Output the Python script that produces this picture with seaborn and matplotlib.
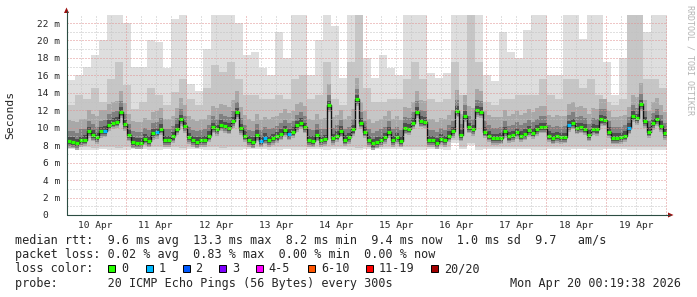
import numpy as np
import matplotlib
matplotlib.use("Agg")
import matplotlib.pyplot as plt
import seaborn as sns
from matplotlib.patches import Rectangle, Polygon
from matplotlib.lines import Line2D

# ---------------- data ----------------
start_hour = 0.33          # Apr 10 00:19 (hours since Apr 10 00:00)
span_hours = 240.0         # 10 days

# median RTT (ms), 96-minute bins
median_ms = [8.44, 8.4, 8.25, 8.6, 8.65, 9.6, 9.2, 8.9, 9.6, 9.65,
             10.35, 10.6, 10.7, 11.85, 10.4, 9.2, 8.4, 8.3, 8.3, 8.75,
             8.5, 9.35, 9.5, 9.9, 8.6, 8.6, 9.0, 9.9, 11.0, 10.2,
             8.94, 8.55, 8.4, 8.55, 8.6, 9.1, 10.1, 9.85, 10.35, 10.2,
             10.0, 10.77, 11.8, 9.95, 9.1, 8.55, 8.4, 9.2, 8.5, 8.85,
             8.6, 8.8, 9.0, 9.3, 9.7, 9.3, 9.55, 10.3, 10.6, 10.1,
             8.6, 8.5, 9.2, 8.6, 8.7, 12.57, 8.8, 9.1, 9.65, 8.65,
             8.9, 9.8, 13.25, 10.6, 9.55, 8.6, 8.2, 8.4, 8.6, 8.9,
             9.55, 8.6, 8.9, 8.5, 10.0, 9.9, 10.6, 11.85, 10.8, 10.7,
             8.55, 8.55, 8.3, 8.75, 8.55, 9.1, 9.6, 11.95, 9.2, 11.4,
             10.1, 9.85, 12.0, 11.85, 9.55, 9.1, 8.8, 8.8, 8.85, 9.6,
             9.0, 9.15, 9.5, 9.1, 9.3, 9.7, 9.45, 9.85, 10.1, 10.1,
             9.1, 8.85, 9.05, 8.9, 8.95, 10.3, 10.55, 10.0, 10.1, 9.9,
             9.2, 9.9, 9.8, 10.95, 10.9, 9.55, 8.85, 8.85, 8.9, 9.1,
             10.0, 11.4, 11.1, 12.7, 10.75, 9.55, 10.5, 11.0, 10.25, 9.4]
loss_one_bins = [9, 22, 48, 49, 55, 125, 140]   # bins with 1/20 lost

# smoke extents (ms), 192-minute bins
smoke_max = [15.5, 16.0, 17.0, 18.3, 20.0, 22.9, 22.9, 22.0, 17.0, 17.0, 20.0, 19.8, 16.8, 22.5, 22.9,
             15.0, 14.2, 19.0, 22.9, 22.9, 22.9, 22.0, 18.3, 18.7, 16.8, 16.0, 21.0, 18.0, 22.9, 22.9,
             16.0, 20.0, 22.9, 21.7, 15.7, 22.9, 22.9, 18.0, 15.7, 18.3, 16.8, 16.0, 22.9, 22.9, 22.9,
             16.3, 15.7, 16.3, 22.9, 22.9, 22.9, 22.9, 16.0, 15.3, 21.0, 18.7, 18.0, 21.2, 22.9, 22.9,
             16.0, 16.0, 22.9, 22.9, 20.2, 22.9, 22.9, 17.5, 13.7, 18.0, 22.9, 22.9, 21.0, 22.9, 22.9]
smoke_mid = [12.6, 13.7, 13.3, 14.5, 13.0, 15.6, 17.5, 14.9, 12.2, 13.0, 14.5, 13.7, 12.6, 14.1, 15.6,
             13.3, 12.6, 14.5, 17.2, 16.4, 17.5, 15.6, 13.7, 13.7, 13.3, 13.3, 13.7, 13.3, 15.6, 16.0,
             13.3, 13.7, 17.5, 13.3, 12.6, 17.5, 22.9, 14.5, 13.0, 13.0, 13.3, 13.3, 15.6, 17.5, 15.6,
             13.3, 13.0, 13.3, 17.5, 13.7, 22.9, 17.5, 13.0, 12.6, 13.3, 13.3, 13.7, 13.7, 13.7, 15.6,
             13.7, 13.3, 15.6, 15.6, 14.5, 15.6, 13.7, 13.0, 12.6, 13.3, 22.9, 22.9, 15.6, 15.6, 14.5]
smoke_min = [7.6, 7.5, 7.5, 7.4, 7.6, 7.5, 7.4, 7.5, 7.6, 7.6, 7.5, 7.5, 7.6, 7.5, 7.4,
             7.6, 7.6, 7.5, 7.5, 7.4, 7.5, 7.5, 7.6, 7.6, 7.6, 7.5, 7.5, 7.6, 7.5, 7.5,
             7.6, 7.6, 7.5, 7.6, 7.6, 7.5, 7.4, 7.6, 7.6, 7.6, 7.6, 7.6, 7.5, 7.5, 7.5,
             7.6, 7.6, 7.5, 8.3, 7.6, 8.0, 7.5, 7.6, 7.6, 7.6, 7.6, 7.6, 7.6, 7.5, 7.5,
             7.6, 7.6, 7.5, 7.6, 7.6, 7.5, 7.5, 7.6, 7.6, 7.6, 7.5, 7.5, 7.5, 7.5, 7.5]

day_labels = ["10 Apr", "11 Apr", "12 Apr", "13 Apr", "14 Apr",
              "15 Apr", "16 Apr", "17 Apr", "18 Apr", "19 Apr"]
y_tick_values = [0, 2, 4, 6, 8, 10, 12, 14, 16, 18, 20, 22]
y_tick_labels = ["0  ", "2 m", "4 m", "6 m", "8 m", "10 m", "12 m",
                 "14 m", "16 m", "18 m", "20 m", "22 m"]

loss_labels = ["0", "1", "2", "3", "4-5", "6-10", "11-19", "20/20"]
loss_colors = ["#26ff00", "#00b8ff", "#0059ff", "#7e00ff",
               "#ff00ff", "#ff5500", "#ff0000", "#a10000"]

row_median = "median rtt:  9.6 ms avg  13.3 ms max  8.2 ms min  9.4 ms now  1.0 ms sd  9.7   am/s"
row_loss = "packet loss: 0.02 % avg  0.83 % max  0.00 % min  0.00 % now"
row_probe = "probe:       20 ICMP Echo Pings (56 Bytes) every 300s"
stamp = "Mon Apr 20 00:19:38 2026"
credit = "RRDTOOL / TOBI OETIKER"

# ---------------- figure ----------------
W, H = 697, 297
sns.set_style("white")
plt.rcParams["font.family"] = ["DejaVu Sans Mono", "DejaVu Sans"]

fig = plt.figure(figsize=(W / 100, H / 100), dpi=100, facecolor="white")


def fx(x):
    return x / W


def fy(y):
    return 1 - y / H


ax_l, ax_r, ax_b, ax_t = 66.5, 667, 215, 14.3
ax = fig.add_axes([fx(ax_l), fy(ax_b), fx(ax_r) - fx(ax_l), fy(ax_t) - fy(ax_b)])
ax.set_facecolor("white")

n_med = len(median_ms)
x_med = start_hour + (span_hours / n_med) * np.arange(n_med + 1)
med = np.append(median_ms, median_ms[-1])
n_sm = len(smoke_max)
x_sm = start_hour + (span_hours / n_sm) * np.arange(n_sm + 1)
s_max = np.append(smoke_max, smoke_max[-1])
s_mid = np.append(smoke_mid, smoke_mid[-1])
s_min = np.append(smoke_min, smoke_min[-1])

# smoke layers
ax.fill_between(x_sm, s_min, s_max, step="post", color="#dedede", lw=0, zorder=1)
ax.fill_between(x_sm, s_min + 0.25, s_mid, step="post", color="#c6c6c6", lw=0, zorder=1.1)
ax.fill_between(x_med, med - 0.75, med + 2.4, step="post", color="#a8a8a8", lw=0, zorder=1.2)
ax.fill_between(x_med, med - 0.55, med + 1.2, step="post", color="#808080", lw=0, zorder=1.3)
ax.fill_between(x_med, med - 0.35, med + 0.5, step="post", color="#4e4e4e", lw=0, zorder=1.4)

# median connecting line
sns.lineplot(x=x_med, y=med, drawstyle="steps-post", color="#111111", lw=1.0,
             estimator=None, sort=False, ax=ax, zorder=2)

# median markers coloured by loss
loss = np.zeros(n_med, dtype=int)
loss[loss_one_bins] = 1
bar_colors = [loss_colors[k] for k in loss]
ax.hlines(median_ms, x_med[:-1], x_med[1:], colors=bar_colors, lw=2.3, zorder=3)

ax.set_xlim(start_hour, start_hour + span_hours)
ax.set_ylim(0, 23)

# grid (on top of the smoke)
dots = (0, (1, 2))
major_col = "#e08f8f"
minor_col = "#c2c2c2"
for h in range(6, 241, 6):
    if start_hour < h < start_hour + span_hours:
        ax.axvline(h, color=major_col if h % 24 == 0 else minor_col,
                   lw=0.72, ls=dots, zorder=4)
for v in range(1, 23):
    ax.axhline(v, color=major_col if v % 2 == 0 else minor_col,
               lw=0.72, ls=dots, zorder=4)

# ticks
ax.set_xticks([12 + 24 * i for i in range(len(day_labels))])
ax.set_xticklabels(day_labels)
ax.set_xticks(list(range(6, 241, 6)), minor=True)
ax.set_yticks(y_tick_values)
ax.set_yticklabels(y_tick_labels)
ax.set_yticks(list(range(1, 23)), minor=True)
ax.tick_params(axis="x", which="major", length=0, pad=4.0, labelsize=6.8)
ax.tick_params(axis="y", which="major", length=2, direction="in", pad=4.6, labelsize=6.8,
               color="#2c4d43")
ax.tick_params(axis="both", which="minor", length=2, direction="in", color="#2c4d43")
ax.tick_params(axis="x", which="minor", length=0)
for s in ax.spines.values():
    s.set_visible(False)
ax.set_xlabel("")
ax.set_ylabel("Seconds", fontsize=8.2)
ax.yaxis.set_label_coords((15.5 - ax_l) / (ax_r - ax_l), 0.5)

# axis lines and arrows
axis_col = "#2c4d43"
arrow_col = "#9c1010"
fig.add_artist(Line2D([fx(66.5), fx(670)], [fy(215), fy(215)], color=axis_col, lw=0.8))
fig.add_artist(Line2D([fx(66.5), fx(66.5)], [fy(215), fy(11)], color=axis_col, lw=0.8))
fig.add_artist(Polygon([[fx(64), fy(13)], [fx(69), fy(13)], [fx(66.5), fy(7.5)]],
                       closed=True, color=arrow_col, transform=fig.transFigure, lw=0))
fig.add_artist(Polygon([[fx(668), fy(212.5)], [fx(668), fy(217.5)], [fx(673.5), fy(215)]],
                       closed=True, color=arrow_col, transform=fig.transFigure, lw=0))

# credit text
fig.text(fx(690), fy(60), credit, rotation=270, color="#b4b4b4", fontsize=6,
         ha="center", va="center")

# legend rows
fs = 8.45
fig.text(fx(15), fy(244.3), row_median, fontsize=fs, ha="left", va="baseline")
fig.text(fx(15), fy(258.3), row_loss, fontsize=fs, ha="left", va="baseline")
fig.text(fx(15), fy(272.3), "loss color:", fontsize=fs, ha="left", va="baseline")
fig.text(fx(15), fy(286.5), row_probe, fontsize=fs, ha="left", va="baseline")
fig.text(fx(681), fy(286.5), stamp, fontsize=fs, ha="right", va="baseline")

swatch_x = [108.3, 145.7, 182.7, 219.0, 256.0, 308.3, 365.7, 431.0]
for sx, lab, col in zip(swatch_x, loss_labels, loss_colors):
    fig.add_artist(Rectangle((fx(sx), fy(272)), fx(7), 7 / H, facecolor=col,
                             edgecolor="black", lw=0.7, transform=fig.transFigure))
    fig.text(fx(sx + 12.7), fy(272.3), lab, fontsize=fs, ha="left", va="baseline")

fig.savefig("out.png", dpi=100, facecolor="white")
